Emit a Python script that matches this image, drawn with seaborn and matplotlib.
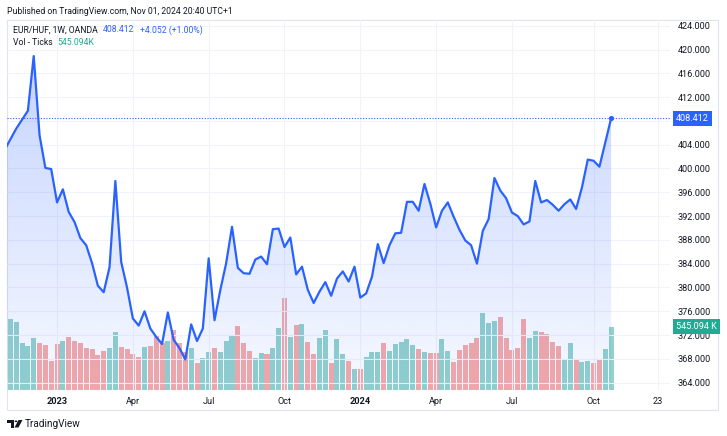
import numpy as np
import pandas as pd
import matplotlib
matplotlib.use("Agg")
import matplotlib.pyplot as plt
import matplotlib.dates as mdates
from matplotlib.patches import Rectangle, Circle, Polygon
from matplotlib.transforms import blended_transform_factory
import seaborn as sns

# ---------------- data ----------------
first_week = "2022-10-31"   # weekly bars (Mondays)

close = [403.1, 404.9, 406.7, 408.2, 409.7, 418.9, 405.6, 400.1, 399.9, 394.3,
         396.5, 392.7, 391.0, 388.3, 387.1, 384.1, 380.3, 379.2, 383.4, 397.9,
         384.3, 380.0, 374.8, 373.6, 376.0, 373.1, 371.7, 370.5, 375.8, 371.2,
         369.8, 367.9, 373.8, 371.0, 373.1, 384.9, 374.5, 379.6, 384.1, 390.2,
         383.3, 382.4, 382.3, 384.7, 385.2, 383.9, 389.8, 389.9, 386.8, 388.4,
         382.2, 383.5, 379.6, 377.4, 379.3, 380.9, 378.6, 381.5, 382.7, 381.0,
         383.5, 378.3, 379.0, 381.8, 387.3, 384.1, 387.1, 389.1, 389.2, 394.4,
         394.4, 392.9, 397.4, 394.1, 390.1, 392.9, 394.3, 391.9, 389.7, 387.9,
         387.1, 384.0, 389.5, 391.5, 398.4, 396.3, 395.0, 392.6, 392.0, 390.6,
         391.1, 397.9, 394.3, 394.7, 393.9, 392.9, 394.0, 394.8, 393.2, 396.8,
         401.5, 401.3, 400.3, 404.36, 408.412]

volume_k = [603, 609, 586, 402, 379, 445, 407, 385, 247, 396,
            425, 456, 419, 407, 359, 350, 301, 336, 359, 502,
            368, 350, 310, 288, 373, 379, 474, 405, 425, 517,
            407, 330, 364, 235, 273, 330, 359, 330, 419, 474,
            551, 405, 336, 278, 316, 310, 359, 531, 795, 456,
            557, 568, 413, 307, 450, 519, 235, 437, 307, 247,
            178, 183, 284, 325, 327, 402, 336, 396, 413, 439,
            390, 356, 327, 319, 316, 437, 336, 241, 342, 390,
            402, 448, 663, 574, 597, 631, 450, 344, 359, 611,
            450, 508, 502, 482, 411, 379, 258, 402, 264, 241,
            250, 230, 258, 353, 545.094]

direction = list("G GGGGG RRRR G RRRRRRR GG RRRR G RRR G RRR G R GG R GGG RRR GG R GG R G R G "
                 "RR GG R GG R G R GGG R GGGGG R G RR GG RRRRR GGG RRRRR GG RRRR GG R GG RR GG"
                 .replace(" ", ""))

price_ticks = [364, 368, 372, 376, 380, 384, 388, 392, 396, 400, 404, 408, 412, 416, 420, 424]
time_tick_dates = ["2023-01-02", "2023-04-03", "2023-07-03", "2023-10-02", "2024-01-01",
                   "2024-04-01", "2024-07-01", "2024-10-07", "2024-12-23"]
time_tick_labels = ["2023", "Apr", "Jul", "Oct", "2024", "Apr", "Jul", "Oct", "23"]
year_labels = ["2023", "2024"]

published = "Published on TradingView.com, Nov 01, 2024 20:40 UTC+1"
symbol = "EUR/HUF, 1W, OANDA"
last_txt = "408.412"
change_txt = "+4.052 (+1.00%)"
vol_title = "Vol - Ticks"
vol_txt = "545.094K"

# ---------------- styling ----------------
sns.set_style("white")
plt.rcParams["font.family"] = ["Roboto", "DejaVu Sans"]

BLUE = "#2962FF"
TEAL = "#22ab94"
TXT = "#131722"
GRID = "#f0f3fa"
UP = "#92d2cc"
DOWN = "#f7a9a7"

W, H = 727, 436
fig = plt.figure(figsize=(W / 100, H / 100), dpi=100)
fig.patch.set_facecolor("white")

def fx(px):
    return px / W

def fy(py):
    return 1 - py / H

dates = pd.date_range(first_week, periods=len(close), freq="7D")
xnum = mdates.date2num(dates)
df = pd.DataFrame({"x": xnum, "close": close, "vol": volume_k, "dir": direction})

L, R, T, B = 7, 670, 20, 390
ax = fig.add_axes([fx(L), fy(B), (R - L) / W, (B - T) / H])
ax2 = ax.twinx()
ax.set_zorder(ax2.get_zorder() + 1)
ax.patch.set_visible(False)

# volume bars
sns.barplot(data=df, x="x", y="vol", hue="dir", palette={"G": UP, "R": DOWN},
            native_scale=True, width=0.86, dodge=False, legend=False,
            saturation=1, errorbar=None, linewidth=0, ax=ax2)

# price line
sns.lineplot(data=df, x="x", y="close", color=BLUE, linewidth=1.6, ax=ax, zorder=5)

ymin, ymax = 362.77, 424.96
xleft = xnum[1] - 4.06
xright = xnum[1] + 113.1 * 7

# gradient area fill
poly = ax.fill_between(df["x"], df["close"], ymin, color="none", linewidth=0)
n = 256
img = np.zeros((n, 1, 4))
rgb = matplotlib.colors.to_rgb(BLUE)
img[..., 0], img[..., 1], img[..., 2] = rgb
img[..., 3] = np.linspace(0.27, 0.04, n)[:, None]
im = ax.imshow(img, extent=[xnum[0], xnum[-1], ymin, max(close)], origin="upper",
               aspect="auto", zorder=1, interpolation="bilinear")
im.set_clip_path(poly.get_paths()[0], transform=ax.transData)

# last-price dotted line and dot
ax.axhline(close[-1], color=BLUE, linestyle=(0, (1, 1.5)), linewidth=0.8, zorder=4)
sns.scatterplot(x=[xnum[-1]], y=[close[-1]], color=BLUE, s=14, linewidth=0, ax=ax, zorder=6)

ax.set_xlim(xleft, xright)
ax.set_ylim(ymin, ymax)
ax2.set_ylim(0, 3186)

# axes cosmetics
for a in (ax, ax2):
    for s in a.spines.values():
        s.set_visible(False)
    a.set_xlabel("")
    a.set_ylabel("")
ax2.set_yticks([])
ax2.tick_params(axis="x", length=0, labelbottom=False)

ax.yaxis.tick_right()
ax.set_yticks(price_ticks)
# the label under the last-price box is hidden by that box, as in the reference
ax.set_yticklabels(["" if abs(v - close[-1]) < 2 else f"{v:.3f}" for v in price_ticks])
ax.tick_params(axis="y", length=0, pad=5.5, labelsize=6.6, labelcolor=TXT)
tick_pos = mdates.date2num(pd.to_datetime(time_tick_dates))
ax.set_xticks(tick_pos)
ax.set_xticklabels(time_tick_labels)
ax.tick_params(axis="x", length=0, pad=5, labelsize=6.6, labelcolor=TXT)
for lab in ax.get_xticklabels():
    if lab.get_text() in year_labels:
        lab.set_fontweight("bold")
ax.grid(True, color=GRID, linewidth=0.8)

# price label boxes on the scale
blend_p = blended_transform_factory(ax.transAxes, ax.transData)
ax.annotate(f"{close[-1]:.3f}", xy=(1, close[-1]), xycoords=blend_p,
            xytext=(6, 0), textcoords="offset pixels", ha="left", va="center",
            color="white", fontsize=6.6, annotation_clip=False, zorder=10,
            bbox=dict(boxstyle="square,pad=0.35", fc=BLUE, ec="none"))
blend_v = blended_transform_factory(ax.transAxes, ax2.transData)
ax.annotate(f"{volume_k[-1]:.3f} K", xy=(1, volume_k[-1]), xycoords=blend_v,
            xytext=(6, 0), textcoords="offset pixels", ha="left", va="center",
            color="white", fontsize=6.6, annotation_clip=False, zorder=10,
            bbox=dict(boxstyle="square,pad=0.35", fc=TEAL, ec="none"))

# frame
fig.add_artist(Rectangle((fx(7), fy(410)), (718 - 7) / W, (410 - 20) / H,
                         transform=fig.transFigure, fill=False, edgecolor="#e0e3eb", lw=0.8))

# header texts, placed one after another
renderer = fig.canvas.get_renderer()
HS = 6.2

def text_row(x0, ypx, items, gap=5):
    x = x0
    for s, c in items:
        t = fig.text(fx(x), fy(ypx), s, fontsize=HS, color=c, va="center", ha="left")
        bb = t.get_window_extent(renderer=renderer)
        x += bb.width + gap

fig.text(fx(7), fy(11), published, fontsize=HS, color=TXT, va="center", ha="left")
text_row(13, 30, [(symbol, TXT), (last_txt, BLUE), (change_txt, BLUE)], gap=5.5)
text_row(13, 42.5, [(vol_title, TXT), (vol_txt, TEAL)], gap=4.5)

# TradingView logo + wordmark
fig.add_artist(Rectangle((fx(7), fy(422.5)), 6.5 / W, 2.5 / H, transform=fig.transFigure,
                         fc=TXT, ec="none"))
fig.add_artist(Rectangle((fx(10.5), fy(427.5)), 3 / W, 7.5 / H, transform=fig.transFigure,
                         fc=TXT, ec="none"))
fig.add_artist(Circle((fx(16), fy(421.3)), 1.4 / W, transform=fig.transFigure,
                      fc=TXT, ec="none"))
fig.add_artist(Polygon([(fx(18.5), fy(420)), (fx(22.5), fy(420)), (fx(18.5), fy(427.5)),
                        (fx(14.5), fy(427.5))], closed=True, transform=fig.transFigure,
                       fc=TXT, ec="none"))
fig.text(fx(25), fy(423.5), "TradingView", fontsize=7.2, color=TXT, va="center", ha="left")

fig.savefig("out.png", dpi=100, facecolor="white")
